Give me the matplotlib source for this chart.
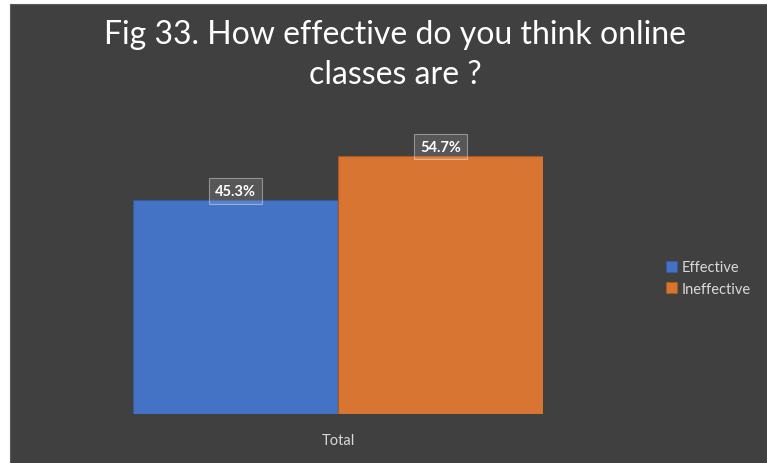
import numpy as np
import matplotlib
matplotlib.use('Agg')
import matplotlib.pyplot as plt
from matplotlib.patches import Rectangle

# ── Dados ─────────────────────────────────────────────────────────────────────
categoria = ['Total']
series = ['Effective', 'Ineffective']
valores = [45.3, 54.7]
cores = ['#4472C4', '#D87533']
bordas = ['#35599A', '#A9581F']

titulo = 'Fig 33. How effective do you think online\nclasses are ?'
fundo = '#404040'
texto_claro = '#D9D9D9'
fonte = 'Lato'

# ── Figura ────────────────────────────────────────────────────────────────────
W, H = 767, 464
fig = plt.figure(figsize=(W / 100, H / 100), dpi=100, facecolor='white')

# fundo escuro (a imagem original tem margem branca em cima e à esquerda)
fig.patches.append(Rectangle((10 / W, 0), 1 - 10 / W, 1 - 5 / H,
                             transform=fig.transFigure, facecolor=fundo,
                             edgecolor='#5a5a5a', linewidth=0.8, zorder=-10))

ax = fig.add_axes([133 / W, (H - 415) / H, (543 - 133) / W, (415 - 132) / H])
ax.set_facecolor('none')

x = np.array([0.0])
largura = 0.5
for i, (nome, v) in enumerate(zip(series, valores)):
    pos = x - largura + i * largura
    ax.bar(pos, [v], width=largura, align='edge', color=cores[i],
           edgecolor=bordas[i], linewidth=0.8, label=nome, zorder=2)
    ax.text(pos[0] + largura / 2, v + 2.0, f'{v:.1f}%', ha='center', va='center',
            color='white', fontsize=10.5, fontweight='bold', family=fonte,
            bbox=dict(boxstyle='square,pad=0.4', facecolor=(1, 1, 1, 0.12),
                      edgecolor=(1, 1, 1, 0.4), linewidth=0.8), zorder=3)

ax.set_xlim(-0.5, 0.5)
ax.set_ylim(0, 60)
ax.set_yticks([])
ax.set_xticks(x)
ax.set_xticklabels(categoria, color=texto_claro, fontsize=10.5, family=fonte)
ax.tick_params(axis='x', length=0, pad=14)
for s in ax.spines.values():
    s.set_visible(False)

fig.text(395 / W, 1 - 55 / H, titulo, ha='center', va='center',
         color='white', fontsize=23, family=fonte, linespacing=1.45)

leg = ax.legend(loc='center left', bbox_to_anchor=(653 / W, (H - 279) / H),
                bbox_transform=fig.transFigure, frameon=False,
                prop={'family': fonte, 'size': 10.5},
                handlelength=0.75, handleheight=0.75, handletextpad=0.3,
                labelspacing=0.5)
for t in leg.get_texts():
    t.set_color(texto_claro)

fig.savefig('out.png', dpi=100, facecolor='white')
